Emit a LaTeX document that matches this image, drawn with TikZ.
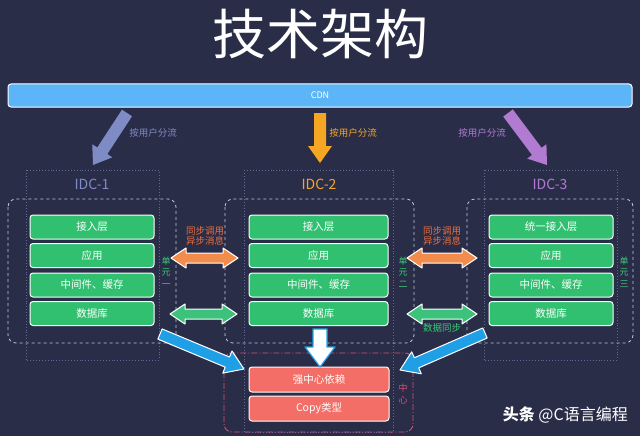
\documentclass[tikz,border=0pt]{standalone}
\usepackage{fontspec}
\setmainfont{Noto Sans CJK SC}
\usetikzlibrary{calc}
\definecolor{bg}{HTML}{2A2D48}
\definecolor{cdnblue}{HTML}{5CB5F7}
\definecolor{boxgreen}{HTML}{31C070}
\definecolor{boxred}{HTML}{F26E66}
\definecolor{arrorange}{HTML}{F28C4C}
\definecolor{txtorange}{HTML}{EC6E3E}
\definecolor{arrgreen}{HTML}{3CC27A}
\definecolor{txtgreen}{HTML}{3CC878}
\definecolor{arrblue}{HTML}{1FA0E6}
\definecolor{idcone}{HTML}{7F8BC4}
\definecolor{idctwo}{HTML}{F5A623}
\definecolor{idcthree}{HTML}{B07BD0}
\definecolor{dotgray}{HTML}{5F6A98}
\definecolor{dashcyan}{HTML}{B4CED8}
\definecolor{centerred}{HTML}{D8507A}
\newcommand\fatarrow[6]{%
  \coordinate (faC) at ($(#3)!#6!(#2)$);
  \path[#1] ($(#2)!#4!90:(#3)$) -- ($(faC)!#4!90:(#3)$) -- ($(faC)!#5!90:(#3)$) -- (#3)
    -- ($(faC)!#5!-90:(#3)$) -- ($(faC)!#4!-90:(#3)$) -- ($(#2)!#4!-90:(#3)$) -- cycle;}
\newcommand\dblarrow[6]{%
  \coordinate (daD) at ($(#2)!#6!(#3)$);
  \coordinate (daC) at ($(#3)!#6!(#2)$);
  \path[#1] (#2) -- ($(daD)!#5!90:(#3)$) -- ($(daD)!#4!90:(#3)$) -- ($(daC)!#4!90:(#3)$)
    -- ($(daC)!#5!90:(#3)$) -- (#3) -- ($(daC)!#5!-90:(#3)$) -- ($(daC)!#4!-90:(#3)$)
    -- ($(daD)!#4!-90:(#3)$) -- ($(daD)!#5!-90:(#3)$) -- cycle;}
\begin{document}
\begin{tikzpicture}[x=1pt,y=-1pt,
  gbox/.style={draw=white, line width=1pt, fill=boxgreen, rounded corners=3pt,
    minimum height=24pt, inner sep=0pt, text=white, font=\fontsize{10.5}{12}\selectfont},
  rbox/.style={gbox, fill=boxred, minimum width=140pt, minimum height=25pt},
  idcbox/.style={draw=dotgray, dotted, line width=0.9pt},
  unitbox/.style={draw=dashcyan, dashed, line width=0.8pt, rounded corners=8pt},
  vlabel/.style={align=center, font=\fontsize{9}{11.5}\selectfont, inner sep=0pt},
  smalllabel/.style={font=\fontsize{9.5}{11}\selectfont, inner sep=0pt, align=center},
  idclabel/.style={font=\fontsize{14}{16}\selectfont, inner sep=0pt},
  outlined/.style={draw=white, line width=1pt, line join=round}]
\fill[bg] (0,0) rectangle (640,436);
\useasboundingbox (0,0) rectangle (640,436);
% title
\node[text=white, font=\fontsize{54}{60}\selectfont, inner sep=0pt] (title) at (320,34) {技术架构};
% CDN
\node[draw=white, line width=1pt, fill=cdnblue, rounded corners=3pt, minimum width=624pt,
  minimum height=23pt, inner sep=0pt, text=white, font=\fontsize{9}{10}\selectfont] (cdn) at (320,95.5) {CDN};
% IDC dotted boxes
\draw[idcbox] (26,170) rectangle (159,360);
\draw[idcbox] (244,170) rectangle (393,432);
\draw[idcbox] (484,170) rectangle (617,360);
\node[idclabel, text=idcone] (idc1) at (92,184) {IDC-1};
\node[idclabel, text=idctwo] (idc2) at (319,184) {IDC-2};
\node[idclabel, text=idcthree] (idc3) at (550,184) {IDC-3};
% unit dashed boxes
\draw[unitbox] (8,199) rectangle (176,343);
\draw[unitbox] (225,199) rectangle (414,343);
\draw[unitbox] (467,199) rectangle (633,343);
\draw[draw=centerred, dash pattern=on 6pt off 2pt on 1pt off 2pt, line width=0.9pt, rounded corners=8pt] (224,353) rectangle (413,432);
% green boxes
\foreach \c/\x/\w in {1/92/124, 2/318.5/139, 3/551/124}{
  \node[gbox, minimum width=\w pt] (acc\c) at (\x,227) {\ifnum\c=3 统一接入层\else 接入层\fi};
  \node[gbox, minimum width=\w pt] (app\c) at (\x,255.5) {应用};
  \node[gbox, minimum width=\w pt] (mid\c) at (\x,285) {中间件、缓存};
  \node[gbox, minimum width=\w pt] (db\c) at (\x,313.5) {数据库};
}
\node[rbox] (strong) at (319,379.5) {强中心依赖};
\node[rbox] (copy) at (319,408.5) {Copy类型};
% vertical labels
\node[vlabel, text=txtgreen] (u1) at (166,272) {单\\元\\一};
\node[vlabel, text=txtgreen] (u2) at (403,272) {单\\元\\二};
\node[vlabel, text=txtgreen] (u3) at (624,272) {单\\元\\三};
\node[vlabel, text=centerred] (cen) at (403,394) {中\\心};
% CDN arrows
\coordinate (cl0) at (127,113); \coordinate (cl1) at (93,165);
\coordinate (cm0) at (320,113); \coordinate (cm1) at (320,163);
\coordinate (cr0) at (508,113); \coordinate (cr1) at (547,165);
\fatarrow{fill=idcone}{cl0}{cl1}{6pt}{12pt}{17pt}
\fatarrow{fill=idctwo}{cm0}{cm1}{6pt}{12pt}{17pt}
\fatarrow{fill=idcthree}{cr0}{cr1}{6pt}{12pt}{17pt}
\node[smalllabel, text=idcone] (l1) at (153,133) {按用户分流};
\node[smalllabel, text=idctwo] (l2) at (353,133) {按用户分流};
\node[smalllabel, text=idcthree] (l3) at (482,133) {按用户分流};
% double arrows between units
\coordinate (oa1) at (171,258); \coordinate (ob1) at (238,258);
\coordinate (oa2) at (407,258); \coordinate (ob2) at (477,258);
\coordinate (ga1) at (170,314); \coordinate (gb1) at (237,314);
\coordinate (ga2) at (407,314); \coordinate (gb2) at (477,314);
\dblarrow{fill=arrorange, outlined}{oa1}{ob1}{5pt}{10pt}{15pt}
\dblarrow{fill=arrorange, outlined}{oa2}{ob2}{5pt}{10pt}{15pt}
\dblarrow{fill=arrgreen, outlined}{ga1}{gb1}{5pt}{10pt}{15pt}
\dblarrow{fill=arrgreen, outlined}{ga2}{gb2}{5pt}{10pt}{15pt}
\node[smalllabel, text=txtorange, font=\fontsize{9.5}{10}\selectfont] (sync1) at (205,236) {同步调用\\异步消息};
\node[smalllabel, text=txtorange, font=\fontsize{9.5}{10}\selectfont] (sync2) at (442,236) {同步调用\\异步消息};
\node[smalllabel, text=txtgreen] (dsync) at (442,328) {数据同步};
% arrows to center
\coordinate (bl0) at (160,334); \coordinate (bl1) at (244,369);
\coordinate (br0) at (485,333); \coordinate (br1) at (400,370);
\coordinate (wd0) at (320,329); \coordinate (wd1) at (320,367);
\fatarrow{fill=arrblue, outlined}{bl0}{bl1}{5.5pt}{12pt}{18pt}
\fatarrow{fill=arrblue, outlined}{br0}{br1}{5.5pt}{12pt}{18pt}
\fatarrow{fill=white, draw=arrblue, line width=1.2pt, line join=round}{wd0}{wd1}{7pt}{15pt}{20pt}
% watermark
\node[text=white, font=\fontsize{16}{18}\selectfont, inner sep=0pt, anchor=east] (wm) at (628,415) {\bfseries 头条\mdseries\ @C语言编程};
\end{tikzpicture}
\end{document}
